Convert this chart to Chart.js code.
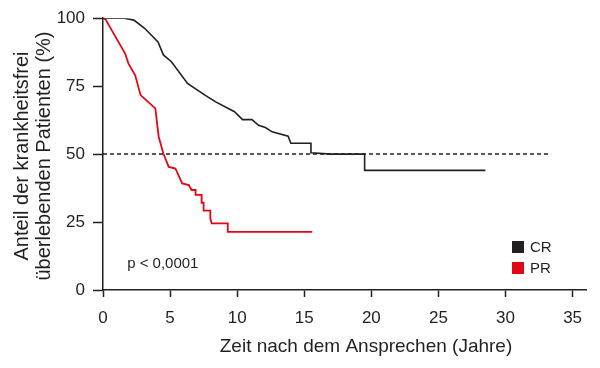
<!DOCTYPE html>
<html>
<head>
<meta charset="utf-8">
<script src="https://cdn.jsdelivr.net/npm/chart.js@4"></script>
<style>
  html, body { margin: 0; padding: 0; background: #fff; }
  #wrap { width: 600px; height: 368px; position: relative; }
</style>
</head>
<body>
<div id="wrap"><canvas id="km"></canvas></div>
<script>
// Kaplan-Meier Kurven, Werte
const crTime = [0, 1.6, 2.3, 3.1, 4.1, 4.5, 5.1, 6.3, 7.6, 8.4, 9.8, 10.4, 11.1, 11.6, 12.1, 12.6, 13.8, 14, 15.5, 15.5, 17, 19.5, 19.5, 28.5];
const crSurv = [100, 100, 99.3, 96.3, 91.3, 86.5, 84, 76, 71.7, 69.2, 65.6, 62.7, 62.7, 60.6, 59.8, 58.2, 56.6, 54, 54, 50.5, 50, 50, 44, 44];

const prTime = [0, 0.2, 1.15, 1.65, 1.9, 2.4, 2.8, 3.9, 4.15, 4.5, 4.9, 5.4, 5.9, 6.4, 6.6, 6.9, 6.9, 7.35, 7.35, 7.5, 7.5, 8.0, 8.0, 8.1, 9.3, 9.3, 15.6];
const prSurv = [100, 99.5, 91.3, 87, 83.3, 79, 71.7, 66.8, 56.4, 50.2, 45.3, 44.7, 39.2, 38.6, 36.8, 36.8, 35, 35, 32.1, 32.1, 29.2, 29.2, 26.3, 24.5, 24.5, 21.4, 21.4];

const refTime = [0, 33.4];
const refSurv = [50, 50];

const xTicks = [0, 5, 10, 15, 20, 25, 30, 35];
const yTicks = [0, 25, 50, 75, 100];

const groups = ['CR', 'PR'];
const pText = 'p < 0,0001';
const xTitle = 'Zeit nach dem Ansprechen (Jahre)';
const yTitle = ['Anteil der krankheitsfrei', 'überlebenden Patienten (%)'];

const FONT = 'Liberation Sans, Arial, sans-serif';
const INK = '#231f20';
const RED = '#e30613';

function toPts(xs, ys) {
    return xs.map((x, i) => ({ x: x, y: ys[i] }));
}

// Achsentitel, p-Wert und Legende
const extras = {
    id: 'extras',
    afterDraw(chart) {
        const c = chart.ctx;
        const xs = chart.scales.x, ys = chart.scales.y;
        c.save();
        c.fillStyle = INK;
        c.font = '19px ' + FONT;
        c.textAlign = 'center';
        c.textBaseline = 'alphabetic';
        c.fillText(xTitle, 366, 352);

        c.save();
        c.translate(0, 156);
        c.rotate(-Math.PI / 2);
        c.font = '20px ' + FONT;
        c.fillText(yTitle[0], 0, 28);
        c.fillText(yTitle[1], 0, 50);
        c.restore();

        c.textAlign = 'left';
        c.textBaseline = 'middle';
        c.font = '15px ' + FONT;
        c.fillText(pText, xs.getPixelForValue(1.8), ys.getPixelForValue(9.5));

        const cols = [INK, RED];
        groups.forEach((g, i) => {
            const y = 247 + i * 21;
            c.fillStyle = cols[i];
            c.fillRect(512, y - 6, 12, 12);
            c.fillStyle = INK;
            c.fillText(g, 530, y + 1);
        });
        c.restore();
    }
};

new Chart(document.getElementById('km'), {
    type: 'line',
    data: {
        datasets: [
            {
                label: groups[0],
                data: toPts(crTime, crSurv),
                borderColor: INK,
                borderWidth: 1.6,
                pointRadius: 0,
                tension: 0
            },
            {
                label: groups[1],
                data: toPts(prTime, prSurv),
                borderColor: RED,
                borderWidth: 1.8,
                pointRadius: 0,
                tension: 0
            },
            {
                label: 'median',
                data: toPts(refTime, refSurv),
                borderColor: INK,
                borderWidth: 1.5,
                borderDash: [4, 3],
                pointRadius: 0
            }
        ]
    },
    options: {
        responsive: true,
        maintainAspectRatio: false,
        animation: false,
        layout: { padding: { left: 0, right: 14, top: 18, bottom: 0 } },
        plugins: {
            legend: { display: false },
            tooltip: { enabled: false }
        },
        scales: {
            x: {
                type: 'linear',
                min: 0,
                max: 36,
                afterBuildTicks: (s) => { s.ticks = xTicks.map(v => ({ value: v })); },
                afterFit: (s) => { s.height = 78; },
                grid: { drawOnChartArea: false, tickLength: 7, tickColor: INK, tickWidth: 1.5 },
                border: { color: INK, width: 1.5 },
                ticks: { color: INK, font: { family: FONT, size: 17 }, padding: 11 }
            },
            y: {
                min: 0,
                max: 100,
                afterBuildTicks: (s) => { s.ticks = yTicks.map(v => ({ value: v })); },
                afterFit: (s) => { s.width = 103; },
                grid: { drawOnChartArea: false, tickLength: 10, tickColor: INK, tickWidth: 1.5 },
                border: { color: INK, width: 1.5 },
                ticks: { color: INK, font: { family: FONT, size: 17 }, padding: 8 }
            }
        }
    },
    plugins: [extras]
});
</script>
</body>
</html>
